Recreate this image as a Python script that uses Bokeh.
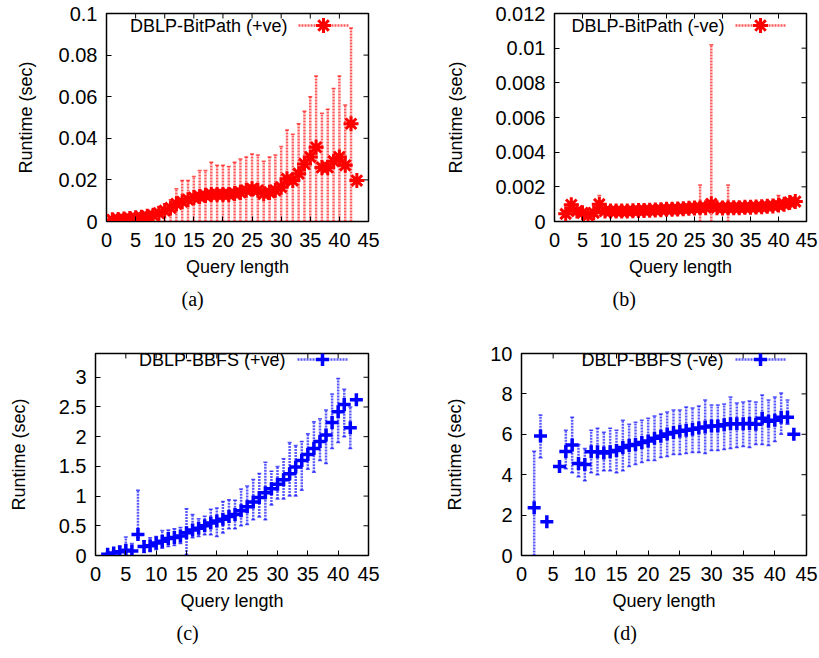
import math
from bokeh.plotting import figure
from bokeh.models import (Range1d, FixedTicker, Label, Title, Arrow,
                          ColumnDataSource)
from bokeh.layouts import column, row
from bokeh.embed import file_html
from bokeh.resources import INLINE

FONT = "Liberation Sans"
SERIF = "Liberation Serif"

# ---------------- data ----------------
X_TICKS = [0, 5, 10, 15, 20, 25, 30, 35, 40, 45]
X_LABELS = ["0", "5", "10", "15", "20", "25", "30", "35", "40", "45"]

# (a) DBLP-BitPath (+ve)
a_x = list(range(1, 44))
a_y = [0.0008, 0.001, 0.0012, 0.0015, 0.0018, 0.002, 0.0025, 0.003, 0.004, 0.0052,
       0.0065, 0.0085, 0.0095, 0.0105, 0.0115, 0.012, 0.0125, 0.013, 0.013, 0.013,
       0.013, 0.0135, 0.014, 0.015, 0.0157, 0.015, 0.0133, 0.014, 0.015, 0.0165,
       0.0205, 0.0197, 0.023, 0.0277, 0.031, 0.0357, 0.026, 0.026, 0.029, 0.031,
       0.027, 0.047, 0.0197]
a_hi = [0.002, 0.0025, 0.003, 0.003, 0.0035, 0.004, 0.0045, 0.0055, 0.007, 0.0085,
        0.0105, 0.0157, 0.0197, 0.0197, 0.0216, 0.0245, 0.0245, 0.0285, 0.027, 0.027,
        0.0264, 0.0285, 0.030, 0.031, 0.0325, 0.032, 0.029, 0.031, 0.032, 0.036,
        0.044, 0.042, 0.047, 0.053, 0.060, 0.070, 0.052, 0.054, 0.064, 0.070,
        0.056, 0.093, 0.0197]
a_lo = [0.0] * 42 + [0.0197]
a_yticks = [0, 0.02, 0.04, 0.06, 0.08, 0.1]
a_ylabels = ["0", "0.02", "0.04", "0.06", "0.08", "0.1"]

# (b) DBLP-BitPath (-ve)
b_x = list(range(2, 44))
b_y = [0.00044, 0.00096, 0.0006, 0.0005, 0.00035, 0.0005, 0.001, 0.0006, 0.0006, 0.0006,
       0.0006, 0.0006, 0.00062, 0.00063, 0.00064, 0.00065, 0.00066, 0.00068, 0.0007, 0.0007,
       0.00072, 0.00074, 0.00076, 0.00078, 0.0008, 0.0008, 0.00102, 0.0008, 0.00078, 0.0008,
       0.0008, 0.0008, 0.00082, 0.00082, 0.00084, 0.00085, 0.00088, 0.0009, 0.00095, 0.001,
       0.0011, 0.00115]
b_hi = [0.0006, 0.0011, 0.0008, 0.0007, 0.0005, 0.0007, 0.0015, 0.0008, 0.0008, 0.0008,
        0.0008, 0.0008, 0.0008, 0.0008, 0.0008, 0.0008, 0.0008, 0.0009, 0.0009, 0.0009,
        0.0009, 0.0009, 0.0009, 0.0009, 0.0021, 0.001, 0.0102, 0.001, 0.001, 0.0021,
        0.001, 0.001, 0.001, 0.001, 0.001, 0.001, 0.0011, 0.0011, 0.0015, 0.0012,
        0.0013, 0.0013]
b_lo = [0.0003, 0.0008, 0.0004, 0.0003, 0.0002, 0.0003, 0.0008, 0.0004, 0.0004, 0.0004,
        0.0004, 0.0004, 0.0004, 0.0004, 0.0004, 0.0004, 0.0005, 0.0005, 0.0005, 0.0005,
        0.0005, 0.0005, 0.0006, 0.0006, 0.0, 0.0006, 0.0, 0.0006, 0.0006, 0.0,
        0.0006, 0.0006, 0.0006, 0.0006, 0.0006, 0.0006, 0.0007, 0.0007, 0.0007, 0.0008,
        0.0009, 0.0009]
b_yticks = [0, 0.002, 0.004, 0.006, 0.008, 0.01, 0.012]
b_ylabels = ["0", "0.002", "0.004", "0.006", "0.008", "0.01", "0.012"]

# (c) DBLP-BBFS (+ve)
c_x = list(range(2, 44))
c_y = [0.02, 0.04, 0.065, 0.09, 0.075, 0.355, 0.15, 0.165, 0.21, 0.24,
       0.285, 0.305, 0.33, 0.385, 0.43, 0.46, 0.5, 0.545, 0.58, 0.61,
       0.655, 0.69, 0.755, 0.82, 0.9, 0.975, 1.055, 1.125, 1.2, 1.275,
       1.375, 1.49, 1.6, 1.7, 1.8, 1.92, 2.03, 2.24, 2.42, 2.54,
       2.15, 2.62]
c_hi = [0.05, 0.08, 0.15, 0.31, 0.2, 1.1, 0.25, 0.3, 0.32, 0.42,
        0.43, 0.45, 0.47, 0.785, 0.69, 0.62, 0.66, 0.78, 0.8, 0.91,
        0.94, 0.93, 1.12, 1.17, 1.28, 1.38, 1.57, 1.42, 1.5, 1.63,
        1.9, 1.85, 1.92, 2.05, 2.25, 2.3, 2.45, 2.72, 2.98, 2.8,
        2.5, 2.62]
c_lo = [0.0, 0.0, 0.0, 0.0, 0.0, 0.3, 0.05, 0.08, 0.1, 0.12,
        0.15, 0.17, 0.2, 0.01, 0.3, 0.32, 0.35, 0.35, 0.32, 0.38,
        0.45, 0.45, 0.5, 0.52, 0.6, 0.65, 0.6, 0.85, 0.95, 0.95,
        1.0, 1.0, 1.1, 1.45, 1.4, 1.6, 1.55, 1.8, 1.9, 2.0,
        1.8, 2.62]
c_yticks = [0, 0.5, 1, 1.5, 2, 2.5, 3]
c_ylabels = ["0", "0.5", "1", "1.5", "2", "2.5", "3"]

# (d) DBLP-BBFS (-ve)
d_x = [2, 3, 4] + list(range(6, 44))
d_y = [2.36, 5.91, 1.67, 4.4, 5.15, 5.47, 4.56, 4.5, 5.13, 5.13,
       5.08, 5.13, 5.2, 5.35, 5.45, 5.5, 5.6, 5.67, 5.8, 5.9,
       6.02, 6.09, 6.15, 6.2, 6.25, 6.31, 6.36, 6.41, 6.41, 6.47,
       6.52, 6.52, 6.52, 6.54, 6.5, 6.8, 6.64, 6.7, 6.84, 6.84,
       6.0]
d_hi = [5.16, 6.95, 1.67, 4.4, 6.2, 6.85, 5.5, 5.3, 6.2, 6.3,
        6.1, 6.3, 6.2, 6.7, 6.5, 6.6, 6.7, 6.8, 6.9, 7.0,
        7.1, 7.2, 7.2, 7.35, 7.3, 7.4, 7.7, 7.45, 7.45, 7.5,
        7.85, 7.55, 7.6, 7.65, 7.6, 7.95, 7.7, 7.85, 8.05, 7.7,
        6.0]
d_lo = [0.0, 4.84, 1.67, 4.4, 4.3, 4.1, 3.9, 3.7, 4.1, 4.0,
        4.2, 4.2, 4.1, 4.2, 4.4, 4.5, 4.6, 4.7, 4.7, 4.85,
        4.9, 5.0, 5.0, 5.05, 5.1, 5.1, 5.05, 5.2, 5.2, 5.25,
        5.3, 5.35, 5.4, 5.35, 5.5, 5.5, 5.45, 5.64, 6.0, 6.5,
        6.0]
d_yticks = [0, 2, 4, 6, 8, 10]
d_ylabels = ["0", "2", "4", "6", "8", "10"]

ERR_STYLE = dict(line_width=2.5, line_dash="2 1", line_alpha=0.65)


def screen_line(p, x0, y0, x1, y1, color, width, dash="solid", alpha=1.0):
    p.add_layout(Arrow(start=None, end=None, x_start=x0, y_start=y0, x_end=x1, y_end=y1,
                       start_units="screen", end_units="screen", line_color=color,
                       line_width=width, line_dash=dash, line_alpha=alpha))


def make_panel(width, height, left, right, top, bottom, ymax, yticks, ylabels,
               xs, ys, lo, hi, color, marker, msize, mlw, legend_text,
               text_right, legend_x, caption, cap_offset, ylab_standoff):
    p = figure(width=width, height=height,
               min_border_left=left, min_border_right=right,
               min_border_top=top, min_border_bottom=bottom,
               x_range=Range1d(0, 45), y_range=Range1d(0, ymax),
               output_backend="svg", toolbar_location=None)
    p.grid.visible = False
    p.background_fill_color = "white"
    p.border_fill_color = "white"
    p.outline_line_color = "black"
    p.outline_line_width = 1.5
    p.outline_line_alpha = 1.0

    for ax, ticks, labels in ((p.xaxis[0], X_TICKS, X_LABELS), (p.yaxis[0], yticks, ylabels)):
        ax.ticker = FixedTicker(ticks=ticks)
        ax.major_label_overrides = {t: l for t, l in zip(ticks, labels)}
        ax.major_tick_in = 5
        ax.major_tick_out = 0
        ax.minor_tick_in = 0
        ax.minor_tick_out = 0
        ax.major_tick_line_color = "black"
        ax.axis_line_color = "black"
        ax.major_label_text_font = FONT
        ax.major_label_text_font_size = "20px"
        ax.major_label_text_color = "black"
        ax.axis_label_text_font = FONT
        ax.axis_label_text_font_size = "18px"
        ax.axis_label_text_font_style = "normal"
        ax.axis_label_text_color = "black"
    p.xaxis.major_label_standoff = 11
    p.yaxis.major_label_standoff = 9
    p.xaxis.axis_label = "Query length"
    p.xaxis.axis_label_standoff = 7
    p.yaxis.axis_label = "Runtime (sec)"
    p.yaxis.axis_label_standoff = ylab_standoff

    # mirrored inward tick marks on the right and top edges (clipped to the frame)
    tr = ColumnDataSource(dict(x=[45] * len(yticks), y=yticks))
    p.scatter(x="x", y="y", source=tr, marker="dash", size=10,
              line_color="black", line_width=1)
    tt = ColumnDataSource(dict(x=X_TICKS, y=[ymax] * len(X_TICKS)))
    p.scatter(x="x", y="y", source=tt, marker="dash", size=10, angle=math.pi / 2,
              line_color="black", line_width=1)

    src = ColumnDataSource(dict(x=xs, y=ys, lo=lo, hi=hi))
    p.segment(x0="x", y0="lo", x1="x", y1="hi", source=src, line_color=color, **ERR_STYLE)
    for col in ("lo", "hi"):
        p.scatter(x="x", y=col, source=src, marker="dash", size=4,
                  line_color=color, line_width=1.5, line_alpha=0.65)
    p.scatter(x="x", y="y", source=src, marker=marker, size=msize,
              line_color=color, line_width=mlw, fill_color=None)

    # key: text on the left, sample (dashed error line + point) on the right
    ky = 196
    p.add_layout(Label(x=text_right, y=ky, x_units="screen", y_units="screen",
                       text=legend_text, text_align="right", text_baseline="middle",
                       text_font=FONT, text_font_size="18px", text_color="black"))
    screen_line(p, legend_x, ky, legend_x + 50, ky, color, ERR_STYLE["line_width"],
                ERR_STYLE["line_dash"], ERR_STYLE["line_alpha"])
    cx = legend_x + 25
    r = msize / 2.0
    screen_line(p, cx - r, ky, cx + r, ky, color, mlw)
    screen_line(p, cx, ky - r, cx, ky + r, color, mlw)
    if marker == "asterisk":
        d = r * 0.7
        screen_line(p, cx - d, ky - d, cx + d, ky + d, color, mlw)
        screen_line(p, cx - d, ky + d, cx + d, ky - d, color, mlw)

    p.add_layout(Title(text=caption, align="left", offset=cap_offset, standoff=13,
                       text_font=SERIF, text_font_size="20px",
                       text_font_style="normal", text_color="black"), "below")
    return p


pa = make_panel(408, 328, 106, 40, 13, 107, 0.1, a_yticks, a_ylabels,
                a_x, a_y, a_lo, a_hi, "red", "asterisk", 15, 3,
                "DBLP-BitPath (+ve)", 181, 192, "(a)", 75, 20)
pb = make_panel(411, 328, 146, 13, 13, 107, 0.012, b_yticks, b_ylabels,
                b_x, b_y, b_lo, b_hi, "red", "asterisk", 15, 3,
                "DBLP-BitPath (-ve)", 170, 181, "(b)", 58, 26)
pc = make_panel(408, 322, 95, 40, 25, 89, 3.4, c_yticks, c_ylabels,
                c_x, c_y, c_lo, c_hi, "blue", "cross", 13, 3.5,
                "DBLP-BBFS (+ve)", 190, 202, "(c)", 81, 27)
pd = make_panel(411, 322, 113, 13, 25, 89, 10, d_yticks, d_ylabels,
                d_x, d_y, d_lo, d_hi, "blue", "cross", 13, 3.5,
                "DBLP-BBFS (-ve)", 202, 214, "(d)", 92, 22)

layout = column(row(pa, pb), row(pc, pd))
open("out.html", "w").write(file_html(layout, INLINE))
